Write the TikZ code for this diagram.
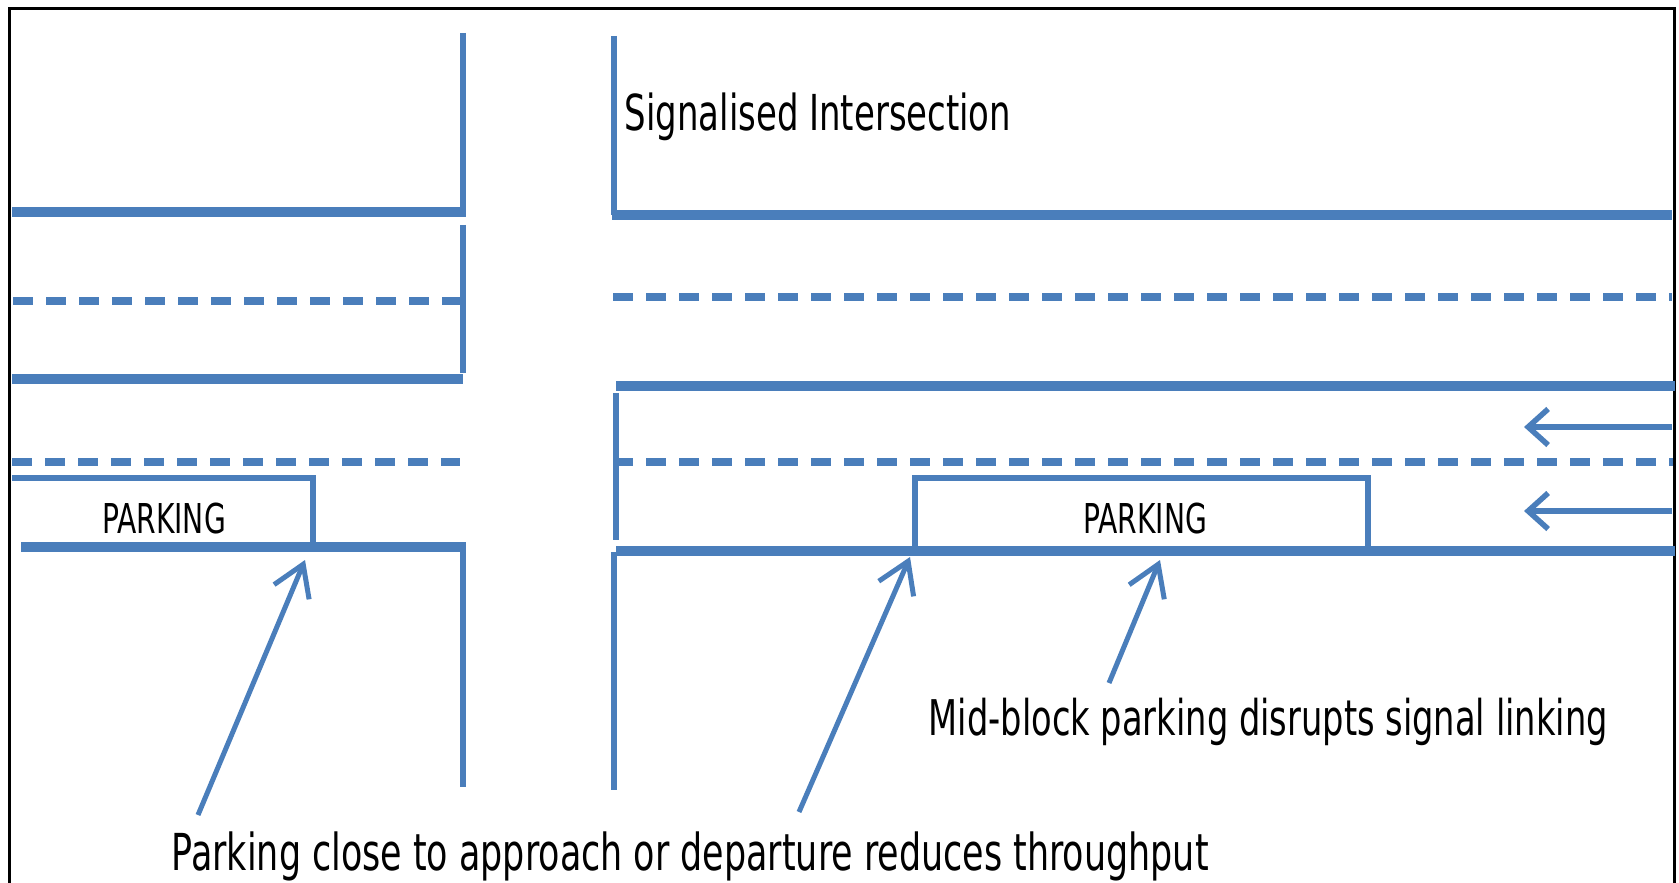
\documentclass[tikz,border=0pt]{standalone}
\usepackage{fontspec}
\setmainfont{DejaVu Sans}[FakeStretch=0.685]
\usepackage{tikz}
\usetikzlibrary{arrows.meta}
\definecolor{roadblue}{RGB}{74,126,187}

\begin{document}
\begin{tikzpicture}[x=0.1mm, y=-0.1mm,
    kerbline/.style={roadblue, line width=1mm},
    stopline/.style={roadblue, line width=0.65mm},
    laneline/.style={roadblue, line width=0.75mm, dash pattern=on 2mm off 1.3mm},
    bayline/.style={roadblue, line width=0.6mm},
    pointer/.style={roadblue, line width=0.5mm, ->},
    flow/.style={roadblue, line width=0.55mm, ->, >={Straight Barb[length=2mm,width=3.6mm]}},
    lbl/.style={inner sep=0pt, anchor=base west, font=\fontsize{14pt}{16pt}\selectfont},
    parklbl/.style={inner sep=0pt, anchor=base, font=\fontsize{11.7pt}{14pt}\selectfont},
    >={Straight Barb[length=3mm,width=3.8mm]}]
    \useasboundingbox (0,0) rectangle (1679,883);
    % frame, its bottom edge lies below the page
    \draw[line width=0.3mm] (9,900) -- (9,9) -- (1674.5,9) -- (1674.5,900);

    % left arm of the intersection
    \draw[stopline] (463,33) -- (463,215) (463,225) -- (463,373) (463,547) -- (463,787);
    \draw[kerbline] (12,212) -- (466,212) (12,379) -- (463,379) (21,547) -- (466,547);
    \draw[laneline] (13,301) -- (460,301) (12,462) -- (460,462);
    \draw[bayline] (12,478) -- (313,478) -- (313,542);

    % right arm of the intersection
    \draw[stopline] (614,36) -- (614,215) (616,393) -- (616,540) (614,552) -- (614,790);
    \draw[kerbline] (612,215) -- (1672,215) (616,386) -- (1675,386) (616,551) -- (1675,551);
    \draw[laneline] (613,297) -- (1672,297) (613,462) -- (1673,462);
    \draw[bayline] (915,547) -- (915,478) -- (1368,478) -- (1368,547);

    % labels
    \node[lbl, font=\fontsize{14.1pt}{16pt}\selectfont] (title) at (624,131) {Signalised Intersection};
    \node[parklbl] (parkleft) at (164,533) {PARKING};
    \node[parklbl] (parkright) at (1145,533) {PARKING};
    \node[lbl] (midblock) at (928,735) {Mid-block parking disrupts signal linking};
    \node[lbl, font=\fontsize{14.5pt}{17pt}\selectfont] (nearstop) at (171,870) {Parking close to approach or departure reduces throughput};

    % pointers and traffic direction
    \coordinate (tailA) at (198,815);
    \coordinate (tipA) at (305,560);
    \coordinate (tailB) at (799,812);
    \coordinate (tipB) at (910,557);
    \coordinate (tailC) at (1109,683);
    \coordinate (tipC) at (1160,560);
    \draw[pointer] (tailA) -- (tipA);
    \draw[pointer] (tailB) -- (tipB);
    \draw[pointer] (tailC) -- (tipC);
    \coordinate (flowinA) at (1672,427);
    \coordinate (flowoutA) at (1524,427);
    \coordinate (flowinB) at (1672,511);
    \coordinate (flowoutB) at (1524,511);
    \draw[flow] (flowinA) -- (flowoutA);
    \draw[flow] (flowinB) -- (flowoutB);
\end{tikzpicture}
\end{document}
